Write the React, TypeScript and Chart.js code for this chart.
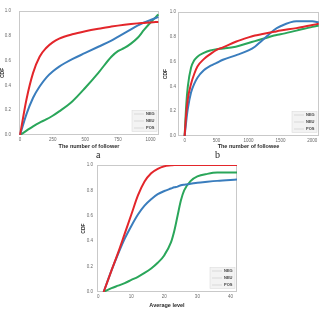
import React, { useEffect, useRef } from "react";
import { Chart, registerables } from "chart.js";

Chart.register(...registerables);

// Series shared by all three panels
const seriesNames = ["NEG", "NEU", "POS"];
const seriesColors = ["#e3262b", "#3a7dbd", "#2aa65a"];
const cdfTicks = [0, 0.2, 0.4, 0.6, 0.8, 1.0];

// (a) CDF of the number of followers
const followerX = [0, 50, 100, 150, 200, 250, 300, 400, 500, 600, 700, 750, 800, 850, 900, 950, 1000, 1060];
const followerNeg = [0, 0.29, 0.5, 0.63, 0.7, 0.745, 0.775, 0.81, 0.835, 0.855, 0.872, 0.88, 0.887, 0.893, 0.898, 0.902, 0.906, 0.91];
const followerNeu = [0, 0.17, 0.3, 0.39, 0.46, 0.51, 0.55, 0.61, 0.66, 0.71, 0.76, 0.79, 0.82, 0.85, 0.88, 0.905, 0.925, 0.95];
const followerPos = [0, 0.035, 0.07, 0.1, 0.125, 0.155, 0.19, 0.27, 0.38, 0.5, 0.63, 0.675, 0.7, 0.735, 0.78, 0.845, 0.905, 0.97];
const followerTicks = [0, 250, 500, 750, 1000];

// (b) CDF of the number of followees
const followeeX = [0, 25, 50, 100, 150, 200, 300, 400, 500, 600, 800, 1000, 1100, 1200, 1300, 1400, 1500, 1750, 2000, 2100];
const followeeNeg = [0, 0.18, 0.3, 0.42, 0.5, 0.56, 0.62, 0.66, 0.695, 0.715, 0.76, 0.795, 0.81, 0.82, 0.83, 0.84, 0.85, 0.87, 0.895, 0.905];
const followeeNeu = [0, 0.12, 0.22, 0.35, 0.42, 0.47, 0.53, 0.565, 0.59, 0.615, 0.65, 0.69, 0.72, 0.765, 0.81, 0.855, 0.885, 0.925, 0.925, 0.915];
const followeePos = [0, 0.25, 0.4, 0.55, 0.61, 0.64, 0.67, 0.69, 0.7, 0.705, 0.72, 0.75, 0.765, 0.78, 0.795, 0.81, 0.82, 0.85, 0.88, 0.89];
const followeeTicks = [0, 500, 1000, 1500, 2000];

// (c) CDF of the average level
const levelX = [1.6, 4, 6, 8, 10, 12, 14, 16, 18, 20, 22, 23, 24, 25, 26, 28, 30, 33, 36, 42];
const levelNeg = [0, 0.17, 0.31, 0.46, 0.61, 0.76, 0.87, 0.935, 0.97, 0.99, 0.997, 1, 1, 1, 1, 1, 1, 1, 1, 1];
const levelNeu = [0, 0.17, 0.3, 0.42, 0.52, 0.61, 0.68, 0.73, 0.77, 0.795, 0.815, 0.825, 0.83, 0.84, 0.845, 0.852, 0.86, 0.868, 0.875, 0.885];
const levelPos = [0, 0.03, 0.05, 0.07, 0.095, 0.12, 0.15, 0.185, 0.23, 0.29, 0.39, 0.48, 0.6, 0.72, 0.8, 0.875, 0.91, 0.93, 0.94, 0.94];
const levelTicks = [0, 10, 20, 30, 40];

const FONT = "'Liberation Sans', Arial, sans-serif";

// Light grey frame round the plot area
const framePlugin = {
  id: "frame",
  beforeDatasetsDraw(chart: any) {
    const { ctx, chartArea: a } = chart;
    ctx.save();
    ctx.strokeStyle = "#c9c9c9";
    ctx.lineWidth = 1;
    ctx.strokeRect(Math.round(a.left) + 0.5, Math.round(a.top) + 0.5, Math.round(a.right - a.left) - 1, Math.round(a.bottom - a.top) - 1);
    ctx.restore();
  },
};

// Small legend box in the lower right corner of the plot area
const cornerLegendPlugin = {
  id: "cornerLegend",
  afterDatasetsDraw(chart: any) {
    const { ctx, chartArea: a } = chart;
    const w = 25;
    const h = 21;
    const x = a.right - 2 - w;
    const y = a.bottom - 3.5 - h;
    ctx.save();
    ctx.fillStyle = "rgba(242,242,242,0.92)";
    ctx.strokeStyle = "#dcdcdc";
    ctx.lineWidth = 0.6;
    ctx.fillRect(x, y, w, h);
    ctx.strokeRect(x, y, w, h);
    chart.data.datasets.forEach((ds: any, i: number) => {
      const cy = y + 3.5 + i * 7;
      ctx.strokeStyle = "#d2d2d2";
      ctx.lineWidth = 0.8;
      ctx.beginPath();
      ctx.moveTo(x + 2, cy);
      ctx.lineTo(x + 12, cy);
      ctx.stroke();
      ctx.fillStyle = "#444";
      ctx.font = `bold 4px ${FONT}`;
      ctx.textAlign = "left";
      ctx.textBaseline = "middle";
      ctx.fillText(ds.label, x + 14, cy);
    });
    ctx.restore();
  },
};

type PanelProps = {
  left: number;
  top: number;
  width: number;
  height: number;
  xs: number[];
  series: number[][];
  xMin: number;
  xMax: number;
  xTicks: number[];
  xTitle: string;
  yAxisWidth: number;
  xAxisHeight: number;
  padTop: number;
  padRight: number;
  yLabelPad: number;
  yTitlePad: number;
};

function CdfPanel(p: PanelProps) {
  const ref = useRef<HTMLCanvasElement | null>(null);

  useEffect(() => {
    if (!ref.current) return;
    const chart = new Chart(ref.current, {
      type: "line",
      data: {
        datasets: p.series.map((vals, i) => ({
          label: seriesNames[i],
          data: p.xs.map((x, j) => ({ x, y: vals[j] })),
          borderColor: seriesColors[i],
          backgroundColor: seriesColors[i],
          borderWidth: 2,
          pointRadius: 0,
          fill: false,
          cubicInterpolationMode: "monotone" as const,
        })),
      },
      options: {
        animation: false,
        responsive: false,
        devicePixelRatio: 1,
        layout: { padding: { top: p.padTop, right: p.padRight, left: 0, bottom: 0 } },
        plugins: { legend: { display: false }, tooltip: { enabled: false } },
        scales: {
          x: {
            type: "linear",
            min: p.xMin,
            max: p.xMax,
            afterBuildTicks: (s: any) => {
              s.ticks = p.xTicks.map((v) => ({ value: v }));
            },
            afterFit: (s: any) => {
              s.height = p.xAxisHeight;
            },
            grid: { display: false, drawTicks: false },
            border: { display: false },
            ticks: {
              autoSkip: false,
              maxRotation: 0,
              padding: 2,
              color: "#6a6a6a",
              font: { family: FONT, size: 4.5 },
              callback: (v: any) => String(v),
            },
            title: {
              display: true,
              text: p.xTitle,
              color: "#2a2a2a",
              padding: { top: 0, bottom: 0 },
              font: { family: FONT, size: 5.5, weight: "bold" },
            },
          },
          y: {
            type: "linear",
            min: 0,
            max: 1,
            afterBuildTicks: (s: any) => {
              s.ticks = cdfTicks.map((v) => ({ value: v }));
            },
            afterFit: (s: any) => {
              s.width = p.yAxisWidth;
            },
            grid: { display: false, drawTicks: false },
            border: { display: false },
            ticks: {
              padding: p.yLabelPad,
              color: "#6a6a6a",
              font: { family: FONT, size: 4.5 },
              callback: (v: any) => Number(v).toFixed(1),
            },
            title: {
              display: true,
              text: "CDF",
              color: "#2a2a2a",
              padding: { top: p.yTitlePad, bottom: 0 },
              font: { family: FONT, size: 5, weight: "bold" },
            },
          },
        },
      },
      plugins: [framePlugin, cornerLegendPlugin],
    });
    return () => chart.destroy();
  }, []);

  return (
    <canvas
      ref={ref}
      width={p.width}
      height={p.height}
      style={{ position: "absolute", left: p.left, top: p.top, width: p.width, height: p.height }}
    />
  );
}

const captionStyle: React.CSSProperties = {
  position: "absolute",
  fontFamily: "'Liberation Serif', 'DejaVu Serif', serif",
  fontSize: 10,
  lineHeight: "10px",
  color: "#222",
};

export default function App() {
  return (
    <div style={{ position: "fixed", left: 0, top: 0, width: 322, height: 309, background: "#fff", overflow: "hidden" }}>
      <CdfPanel
        left={0}
        top={0}
        width={161}
        height={150}
        xs={followerX}
        series={[followerNeg, followerNeu, followerPos]}
        xMin={-8}
        xMax={1065}
        xTicks={followerTicks}
        xTitle="The number of follower"
        yAxisWidth={19}
        xAxisHeight={15}
        padTop={4}
        padRight={2}
        yLabelPad={8}
        yTitlePad={0}
      />
      <CdfPanel
        left={161}
        top={0}
        width={161}
        height={150}
        xs={followeeX}
        series={[followeeNeg, followeeNeu, followeePos]}
        xMin={-104}
        xMax={2104}
        xTicks={followeeTicks}
        xTitle="The number of followee"
        yAxisWidth={17}
        xAxisHeight={14}
        padTop={12}
        padRight={3}
        yLabelPad={2}
        yTitlePad={2}
      />
      <CdfPanel
        left={80}
        top={150}
        width={170}
        height={159}
        xs={levelX}
        series={[levelNeg, levelNeu, levelPos]}
        xMin={-0.4}
        xMax={42}
        xTicks={levelTicks}
        xTitle="Average level"
        yAxisWidth={17}
        xAxisHeight={17}
        padTop={15}
        padRight={13}
        yLabelPad={4}
        yTitlePad={1}
      />
      <span style={{ ...captionStyle, left: 96, top: 150 }}>a</span>
      <span style={{ ...captionStyle, left: 215, top: 150 }}>b</span>
    </div>
  );
}
